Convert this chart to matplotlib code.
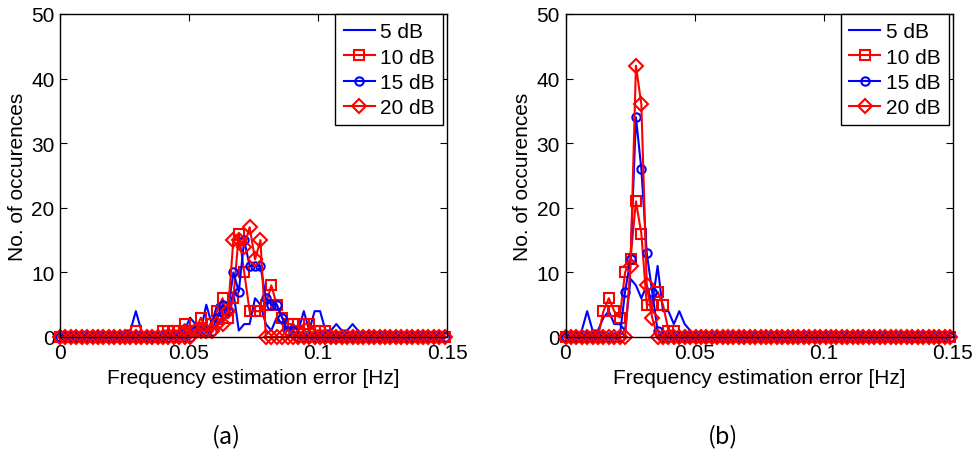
import numpy as np
import matplotlib.pyplot as plt

plt.rcParams['font.family'] = ['Liberation Sans', 'DejaVu Sans']

# histogram bin positions (Hz), 72 bins of 0.0021 Hz
freq = np.arange(72) * 0.0021

# (a) counts per bin
a_5db = [0, 0, 0, 0, 0, 0, 0, 0, 0, 0, 0, 0,
         1, 1, 4, 1, 0, 0, 0, 0, 0, 0, 1, 1,
         3, 2, 1, 5, 2, 5, 3, 3, 7, 1, 2, 2,
         6, 5, 2, 1, 3, 2, 1, 2, 1, 4, 1, 4,
         4, 1, 1, 2, 1, 1, 2, 1, 0, 1, 0, 0,
         0, 0, 0, 0, 0, 0, 0, 0, 0, 0, 0, 0]
a_10db = [0, 0, 0, 0, 0, 0, 0, 0, 0, 0, 0, 0,
          0, 0, 1, 0, 0, 0, 0, 1, 1, 1, 1, 2,
          1, 1, 3, 1, 2, 4, 6, 3, 6, 16, 10, 4,
          4, 4, 5, 8, 5, 3, 2, 2, 1, 2, 2, 1,
          1, 1, 0, 0, 0, 0, 0, 0, 0, 0, 0, 0,
          0, 0, 0, 0, 0, 0, 0, 0, 0, 0, 0, 0]
a_15db = [0, 0, 0, 0, 0, 0, 0, 0, 0, 0, 0, 0,
          0, 0, 0, 0, 0, 0, 0, 0, 0, 0, 0, 0,
          0, 1, 1, 1, 1, 3, 5, 4, 10, 7, 15, 11,
          11, 11, 6, 5, 5, 3, 1, 1, 0, 0, 0, 0,
          0, 0, 0, 0, 0, 0, 0, 0, 0, 0, 0, 0,
          0, 0, 0, 0, 0, 0, 0, 0, 0, 0, 0, 0]
a_20db = [0, 0, 0, 0, 0, 0, 0, 0, 0, 0, 0, 0,
          0, 0, 0, 0, 0, 0, 0, 0, 0, 0, 0, 0,
          0, 1, 1, 1, 1, 2, 2, 4, 15, 15, 14, 17,
          12, 15, 0, 0, 0, 0, 0, 0, 0, 0, 0, 0,
          0, 0, 0, 0, 0, 0, 0, 0, 0, 0, 0, 0,
          0, 0, 0, 0, 0, 0, 0, 0, 0, 0, 0, 0]

# (b) counts per bin
b_5db = [1, 0, 0, 1, 4, 1, 1, 3, 4, 2, 2, 1,
         9, 8, 6, 8, 5, 11, 4, 4, 2, 4, 2, 1,
         0, 0, 0, 0, 0, 0, 0, 0, 0, 0, 0, 0,
         0, 0, 0, 0, 0, 0, 0, 0, 0, 0, 0, 0,
         0, 0, 0, 0, 0, 0, 0, 0, 0, 0, 0, 0,
         0, 0, 0, 0, 0, 0, 0, 0, 0, 0, 0, 0]
b_10db = [0, 0, 0, 0, 0, 0, 0, 4, 6, 4, 3, 10,
          12, 21, 16, 5, 5, 7, 5, 1, 1, 0, 0, 0,
          0, 0, 0, 0, 0, 0, 0, 0, 0, 0, 0, 0,
          0, 0, 0, 0, 0, 0, 0, 0, 0, 0, 0, 0,
          0, 0, 0, 0, 0, 0, 0, 0, 0, 0, 0, 0,
          0, 0, 0, 0, 0, 0, 0, 0, 0, 0, 0, 0]
b_15db = [0, 0, 0, 0, 0, 0, 0, 0, 0, 0, 0, 7,
          12, 34, 26, 13, 7, 1, 0, 0, 0, 0, 0, 0,
          0, 0, 0, 0, 0, 0, 0, 0, 0, 0, 0, 0,
          0, 0, 0, 0, 0, 0, 0, 0, 0, 0, 0, 0,
          0, 0, 0, 0, 0, 0, 0, 0, 0, 0, 0, 0,
          0, 0, 0, 0, 0, 0, 0, 0, 0, 0, 0, 0]
b_20db = [0, 0, 0, 0, 0, 0, 0, 0, 0, 0, 0, 0,
          11, 42, 36, 8, 3, 0, 0, 0, 0, 0, 0, 0,
          0, 0, 0, 0, 0, 0, 0, 0, 0, 0, 0, 0,
          0, 0, 0, 0, 0, 0, 0, 0, 0, 0, 0, 0,
          0, 0, 0, 0, 0, 0, 0, 0, 0, 0, 0, 0,
          0, 0, 0, 0, 0, 0, 0, 0, 0, 0, 0, 0]

snr_labels = ['5 dB', '10 dB', '15 dB', '20 dB']
xticks = [0, 0.05, 0.1, 0.15]
xtick_labels = ['0', '0.05', '0.1', '0.15']
yticks = [0, 10, 20, 30, 40, 50]

fig = plt.figure(figsize=(9.75, 4.56), dpi=100)
ax1 = fig.add_axes([60 / 975, 118 / 456, 387 / 975, 323 / 456])
ax2 = fig.add_axes([565.5 / 975, 118 / 456, 387 / 975, 323 / 456])


def draw(ax, s5, s10, s15, s20):
    ax.plot(freq, s5, 'b-', lw=1.5, label=snr_labels[0], clip_on=False)
    ax.plot(freq, s10, 'r-s', lw=1.5, ms=6.5, mfc='none', mew=1.5,
            label=snr_labels[1], clip_on=False)
    ax.plot(freq, s15, 'b-o', lw=1.5, ms=6, mfc='none', mew=1.5,
            label=snr_labels[2], clip_on=False)
    ax.plot(freq, s20, 'r-D', lw=1.5, ms=7, mfc='none', mew=1.5,
            label=snr_labels[3], clip_on=False)
    ax.set_xlim(0, 0.15)
    ax.set_ylim(0, 50)
    ax.set_xticks(xticks)
    ax.set_xticklabels(xtick_labels)
    ax.set_yticks(yticks)
    ax.tick_params(direction='in', top=True, right=True, length=5,
                   labelsize=15, pad=4)
    for sp in ax.spines.values():
        sp.set_linewidth(1.0)
    ax.set_xlabel('Frequency estimation error [Hz]', fontsize=15, labelpad=5)
    ax.set_ylabel('No. of occurences', fontsize=15, labelpad=3)
    leg = ax.legend(loc='upper right', bbox_to_anchor=(0.99, 1.0),
                    borderaxespad=0, fontsize=15, fancybox=False,
                    framealpha=1, edgecolor='black', handlelength=1.5,
                    handletextpad=0.25, labelspacing=0.3, borderpad=0.4)
    leg.get_frame().set_linewidth(1.0)


draw(ax1, a_5db, a_10db, a_15db, a_20db)
draw(ax2, b_5db, b_10db, b_15db, b_20db)

fig.text(226 / 975, 1 - 437 / 456, '(a)', fontsize=17, ha='center', va='center',
         family=['Noto Sans CJK KR', 'DejaVu Sans'])
fig.text(723 / 975, 1 - 437 / 456, '(b)', fontsize=17, ha='center', va='center',
         family=['Noto Sans CJK KR', 'DejaVu Sans'])

fig.savefig('out.png', dpi=100)
